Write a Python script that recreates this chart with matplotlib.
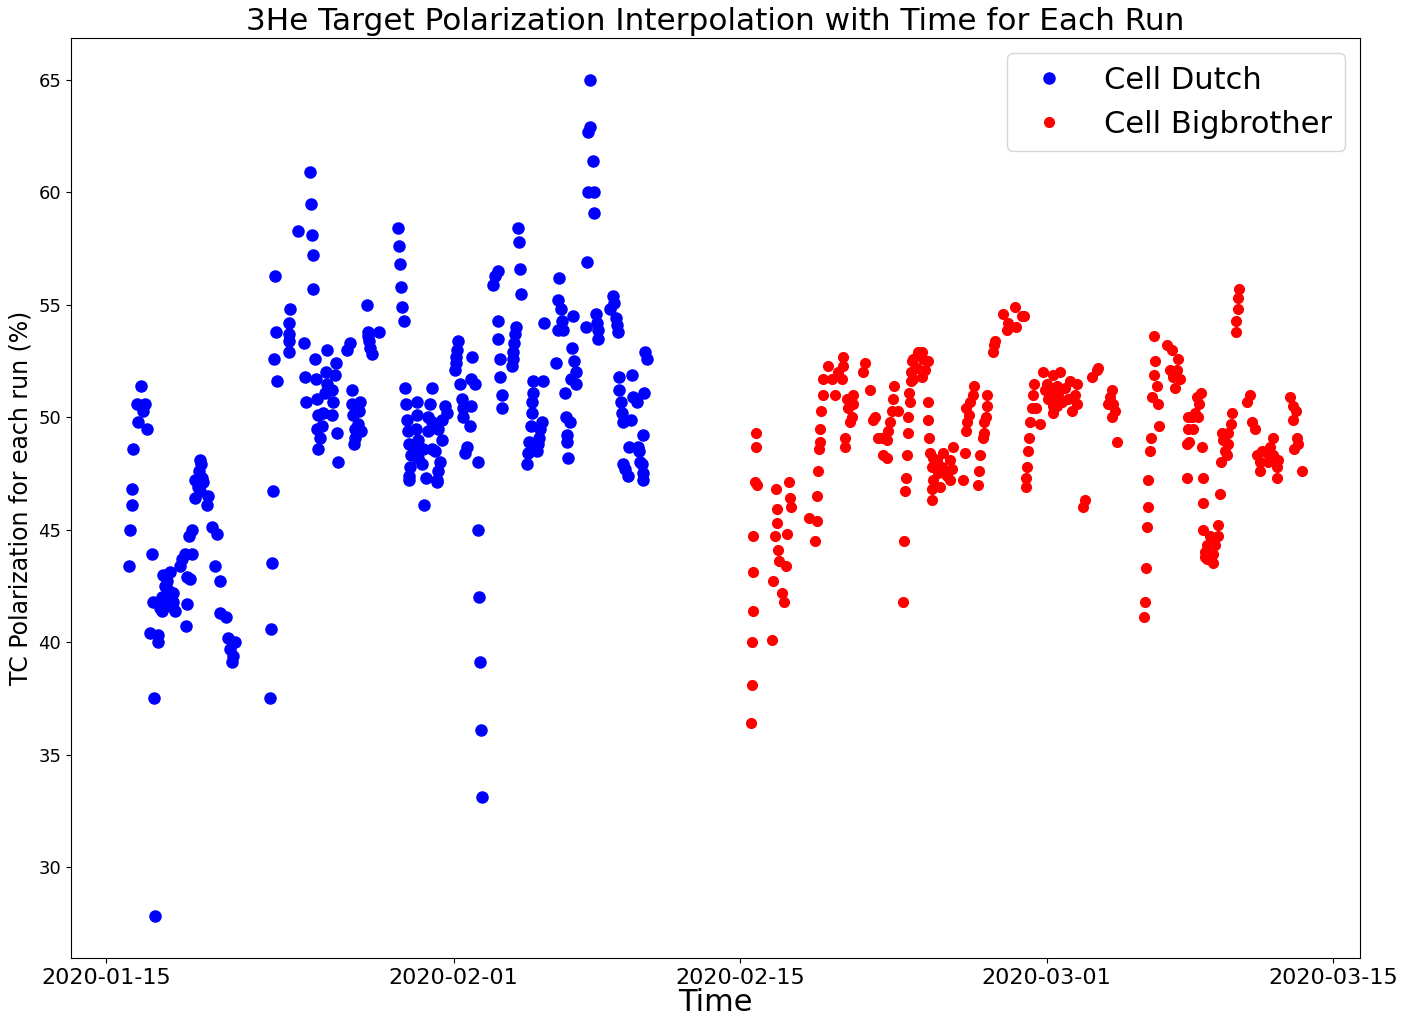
import matplotlib
matplotlib.use("Agg")
import matplotlib.pyplot as plt
import matplotlib.dates as mdates
import pandas as pd

# ------------------------------
# Data: days since 2020-01-15 and polarization (%)
# ------------------------------
start = pd.Timestamp("2020-01-15")

dutch_days = [
    1.12, 1.17, 1.27, 1.27, 1.32, 1.71, 1.52, 1.91, 1.81, 1.56, 2.00,
    2.25, 2.30, 2.15, 2.54, 2.54, 2.35, 2.40,
    2.79, 3.13, 2.98, 3.03, 2.74, 3.28, 2.79, 2.64, 3.28, 3.37, 2.74, 2.90, 3.08, 3.18,
    3.96, 4.11, 3.96, 3.91, 3.72, 3.86, 4.21, 3.62, 4.21, 4.06,
    4.60, 4.55, 4.35, 4.74, 4.50, 4.60, 4.35, 4.65, 4.70,
    4.99, 4.94, 5.18, 5.43, 5.33, 5.57, 5.57, 5.87,
    5.97, 6.31, 6.06, 6.21, 6.16,
    9.98, 10.02, 9.39, 10.07, 10.12, 8.26, 10.12, 9.00,
    8.95, 8.95, 8.95, 8.95, 8.31, 9.68, 8.22, 8.36,
    10.22, 10.81, 11.25, 9.73, 10.27, 10.76, 11.20,
    10.81, 11.05, 10.71, 11.10, 9.78, 10.32,
    10.37, 10.61, 11.05, 10.32, 10.56, 10.46, 10.37,
    11.30, 11.34, 11.78, 11.93, 12.76,
    12.81, 12.81, 12.86, 12.91, 13.01, 13.35, 12.03,
    12.42, 12.03, 12.37, 12.08, 12.32, 12.18, 12.47, 12.18, 12.13,
    8.17, 8.12, 8.07, 8.02,
    14.28, 14.33, 14.38, 14.43, 14.47, 14.57,
    19.02, 19.17, 18.92, 19.17, 19.17, 19.27, 19.27, 19.36, 19.36,
    17.21, 17.16, 17.11, 17.11, 17.07, 17.90,
    17.31, 17.85, 18.04, 17.40, 17.46, 17.85, 17.46, 17.80, 17.65, 17.56, 18.19,
    14.62, 15.94, 14.67, 15.21, 15.84,
    14.72, 15.21, 15.75, 15.94, 16.58, 16.67, 16.43,
    14.77, 15.16, 15.75, 16.23, 16.43,
    14.82, 15.26, 15.11, 15.50, 15.94,
    14.91, 15.26, 15.45, 16.09,
    14.87, 14.82, 14.82, 16.33, 16.23, 16.19, 16.19, 15.65, 15.55,
    18.19, 18.24, 18.29, 18.34, 18.39,
    23.67, 23.67, 23.57, 23.81, 23.57, 23.86, 23.86, 23.52,
    20.15, 20.20, 20.24, 20.29,
    20.05, 20.00, 19.95, 19.90, 19.90, 19.85,
    21.42, 22.15, 22.10, 22.25, 22.30, 22.10, 22.35, 22.84, 23.47,
    23.96, 24.01, 24.06, 24.06,
    24.79, 24.84, 24.65, 24.94, 24.99, 25.04,
    22.79, 22.89, 22.98, 22.74, 22.98, 22.00, 22.44,
    22.49, 22.69, 22.54, 22.54, 22.59,
    20.88, 21.37, 20.88, 20.83, 20.83, 20.78, 21.32, 21.22, 21.17, 21.12, 21.08,
    20.68, 20.64, 20.59,
    26.36, 26.45,
    25.09, 25.09, 25.18, 25.23, 25.28, 25.72, 25.67,
    25.77, 25.97, 26.31, 26.26,
    25.57, 26.01, 26.06, 26.11,
    25.28, 25.38, 25.53, 26.21, 26.26, 26.26,
]
dutch_pol = [
    43.4, 45.0, 46.1, 46.8, 48.6, 51.4, 50.6, 50.6, 50.3, 49.8, 49.5,
    43.9, 41.8, 40.4, 40.3, 40.0, 37.5, 27.8,
    43.0, 43.1, 42.7, 42.3, 42.0, 42.2, 41.7, 41.5, 41.8, 41.4, 41.4, 42.5, 42.0, 41.6,
    42.9, 42.8, 41.7, 40.7, 43.7, 43.9, 43.9, 43.4, 45.0, 44.7,
    48.1, 47.6, 47.2, 47.1, 46.9, 46.7, 46.4, 47.9, 47.3,
    46.5, 46.1, 45.1, 44.8, 43.4, 42.7, 41.3, 41.1,
    40.2, 40.0, 39.7, 39.4, 39.1,
    60.9, 59.5, 58.3, 58.1, 57.2, 56.3, 55.7, 54.8,
    54.2, 53.7, 53.4, 52.9, 53.8, 53.3, 52.6, 51.6,
    52.6, 53.0, 52.4, 51.8, 51.7, 52.0, 51.9,
    51.5, 51.2, 51.1, 50.7, 50.7, 50.8,
    50.1, 50.2, 50.1, 49.5, 49.6, 49.1, 48.6,
    49.3, 48.0, 53.0, 53.3, 55.0,
    53.8, 53.6, 53.4, 53.1, 52.8, 53.8, 51.2,
    50.7, 50.6, 50.3, 50.1, 49.7, 49.5, 49.4, 49.1, 48.8,
    46.7, 43.5, 40.6, 37.5,
    58.4, 57.6, 56.8, 55.8, 54.9, 54.3,
    56.3, 56.5, 55.9, 54.3, 53.5, 52.6, 51.8, 51.0, 50.4,
    53.4, 53.0, 52.7, 52.4, 52.1, 52.7,
    51.5, 51.7, 51.5, 50.8, 50.4, 50.5, 50.0, 49.6, 48.7, 48.4, 48.0,
    51.3, 51.3, 50.6, 50.7, 50.6,
    49.9, 50.1, 50.0, 49.8, 50.5, 50.2, 49.9,
    49.4, 49.5, 49.4, 49.5, 49.0,
    48.8, 49.0, 48.6, 48.6, 48.6,
    48.3, 48.2, 47.9, 48.5,
    47.8, 47.4, 47.2, 48.0, 47.6, 47.2, 47.1, 47.3, 46.1,
    45.0, 42.0, 39.1, 36.1, 33.1,
    65.0, 62.9, 62.7, 61.4, 60.0, 60.0, 59.1, 56.9,
    58.4, 57.8, 56.6, 55.5,
    54.0, 53.7, 53.3, 52.9, 52.6, 52.3,
    54.2, 56.2, 55.2, 54.8, 54.3, 53.9, 53.9, 54.5, 54.0,
    54.6, 54.2, 53.9, 53.5,
    55.4, 55.1, 54.8, 54.4, 54.1, 53.8,
    53.1, 52.5, 52.0, 51.7, 51.5, 52.4, 51.1,
    50.0, 49.8, 49.2, 48.9, 48.2,
    51.6, 51.6, 51.1, 50.7, 50.2, 49.6, 49.8, 49.5, 49.1, 48.8, 48.5,
    48.9, 48.4, 47.9,
    52.9, 52.6,
    51.8, 51.2, 50.7, 50.2, 49.8, 51.9, 49.9,
    50.9, 50.7, 51.1, 49.2,
    48.7, 48.7, 48.5, 48.0,
    47.9, 47.7, 47.4, 47.9, 47.5, 47.2,
]

bb_days = [
    31.78, 31.78, 31.74, 31.83, 31.64, 31.64, 31.64, 31.59, 31.59, 31.54,
    33.40, 32.76, 33.45, 33.50, 32.81, 32.81, 32.71, 33.30, 32.86, 32.91,
    33.25, 32.62, 33.06, 33.15, 32.57,
    34.38, 34.77, 34.82, 34.77, 34.67,
    34.91, 34.91, 34.87, 34.96, 35.06,
    35.31, 35.06, 35.50, 35.65, 35.79, 36.04, 36.04, 35.99,
    36.23, 36.28, 36.48, 36.38, 36.14, 36.14, 36.53, 36.53,
    37.12, 37.02, 37.36, 37.51, 37.60,
    38.53, 38.48, 38.44, 38.73, 38.34, 38.24, 37.95, 38.19, 38.00, 38.19, 37.75,
    39.41, 39.36, 39.36, 39.27, 39.32, 39.22, 39.22, 39.17, 39.12, 39.07, 39.02, 38.97,
    39.71, 39.90, 39.46, 39.95, 40.20, 39.66, 40.05, 39.46, 39.90,
    40.20, 40.20, 40.24, 40.29, 40.44,
    40.93, 41.42, 40.64, 41.27, 40.39, 40.88, 41.37, 40.68, 41.12, 40.44, 41.27,
    40.78, 40.39, 40.39,
    42.00, 41.91,
    42.44, 42.40, 42.25, 42.05, 42.20, 42.10, 42.05,
    43.08, 43.08, 43.03, 42.93, 42.93, 42.89, 42.74, 42.69, 42.64,
    43.47, 43.42, 43.37,
    43.86, 44.45, 44.11, 44.50, 44.79, 44.89, 44.06,
    45.38, 45.33, 45.28, 45.48, 45.18, 45.67, 45.13, 45.09, 45.04, 44.99, 44.99,
    45.82, 46.31, 46.01, 46.50, 45.92, 46.26, 46.06, 46.55, 46.31, 46.31,
    46.65, 47.14, 47.48, 46.89, 46.55, 47.38, 47.04, 46.75, 47.48, 47.24, 46.50,
    48.22, 48.46, 48.51,
    47.87, 47.78,
    49.19, 49.10, 49.24, 48.99, 49.34, 49.19, 49.44,
    51.25, 51.30, 51.25, 51.39, 51.15, 51.44, 51.49,
    51.10, 51.05, 50.95, 50.95, 50.90, 50.86, 50.81, 50.76,
    51.88, 52.13, 52.42, 52.37, 52.18, 52.52, 52.27, 52.03,
    52.91, 52.91, 52.86, 52.86,
    55.40, 55.35, 55.35, 55.26, 55.26,
    53.55, 53.35, 53.45, 53.25, 53.40, 53.11, 53.15, 52.96, 53.59, 53.64, 53.64,
    54.47,
    53.64, 54.38, 53.99, 54.38, 53.84, 54.23, 53.74, 54.13, 53.84, 54.13, 53.74,
    55.06, 55.01, 54.57, 54.87, 54.62, 54.87, 54.72, 54.82, 54.52,
    55.94, 55.79, 56.04, 56.19,
    57.07, 56.92, 56.53, 56.28, 56.77, 57.07, 57.31, 56.43, 57.26, 56.43, 57.26, 56.82,
    57.90, 58.04, 58.19, 58.04,
    58.24, 58.29, 58.09, 58.48,
]
bb_pol = [
    49.3, 48.7, 47.1, 47.0, 44.7, 43.1, 41.4, 40.0, 38.1, 36.4,
    47.1, 46.8, 46.4, 46.0, 45.9, 45.3, 44.7, 44.8, 44.1, 43.6,
    43.4, 42.7, 42.2, 41.8, 40.1,
    45.5, 45.4, 47.6, 46.5, 44.5,
    49.5, 48.9, 48.6, 50.3, 51.0,
    52.3, 51.7, 51.7, 51.0, 52.0, 52.7, 52.3, 51.7,
    50.8, 50.4, 50.0, 49.8, 49.1, 48.7, 51.0, 50.6,
    52.4, 52.0, 51.2, 49.9, 50.0,
    51.4, 50.8, 50.3, 50.3, 49.8, 49.4, 49.1, 49.0, 48.3, 48.2, 49.1,
    52.5, 52.0, 51.6, 51.1, 50.7, 50.0, 49.3, 48.3, 47.3, 46.7, 44.5, 41.8,
    52.9, 52.9, 52.6, 52.6, 52.5, 52.2, 52.1, 51.7, 51.8,
    50.7, 49.9, 49.1, 48.4, 48.2,
    48.4, 48.7, 48.1, 48.1, 47.8, 47.8, 47.7, 47.5, 47.4, 47.2, 47.2,
    46.9, 46.8, 46.3,
    48.4, 47.2,
    51.4, 51.0, 50.7, 50.4, 50.1, 49.8, 49.4,
    51.0, 50.5, 50.0, 49.8, 49.3, 49.1, 48.3, 47.6, 47.0,
    53.4, 53.2, 52.9,
    54.6, 54.9, 54.2, 54.0, 54.5, 54.5, 53.9,
    51.5, 51.0, 50.4, 50.4, 49.8, 49.7, 49.1, 48.5, 47.8, 47.3, 46.9,
    52.0, 51.9, 51.5, 51.4, 51.2, 51.1, 50.8, 50.9, 50.5, 50.2,
    52.0, 51.6, 51.5, 51.3, 51.1, 51.0, 50.8, 50.7, 50.6, 50.3, 50.5,
    51.8, 52.1, 52.2,
    46.3, 46.0,
    51.2, 50.9, 50.6, 50.6, 50.3, 50.0, 48.9,
    53.6, 52.5, 51.9, 51.4, 50.9, 50.6, 49.6,
    49.1, 48.5, 47.2, 46.0, 45.1, 43.3, 41.8, 41.1,
    53.2, 53.0, 52.6, 52.1, 51.8, 51.7, 51.3, 52.1,
    50.0, 49.5, 48.8, 47.3,
    55.7, 55.3, 54.8, 54.3, 53.8,
    51.1, 50.9, 50.6, 50.2, 50.0, 50.0, 49.5, 48.9, 48.7, 47.3, 46.2,
    46.6,
    45.0, 45.2, 44.7, 44.7, 44.3, 44.3, 44.0, 43.9, 43.7, 43.5, 43.8,
    50.2, 49.7, 49.3, 49.3, 49.0, 48.8, 48.5, 48.3, 48.0,
    51.0, 50.7, 49.8, 49.5,
    49.1, 48.7, 48.5, 48.3, 48.4, 48.3, 48.1, 48.0, 47.8, 47.6, 47.3, 48.0,
    50.9, 50.5, 50.3, 49.9,
    49.1, 48.8, 48.6, 47.6,
]

tick_dates = ["2020-01-15", "2020-02-01", "2020-02-15", "2020-03-01", "2020-03-15"]

dutch_time = start + pd.to_timedelta(dutch_days, unit="D")
bb_time = start + pd.to_timedelta(bb_days, unit="D")

# ------------------------------
# Plot
# ------------------------------
fig = plt.figure(figsize=(14.11, 10.19), dpi=100)
ax = fig.add_axes([0.0503, 0.0599, 0.9135, 0.9028])

ax.plot(dutch_time, dutch_pol, "o", color="blue", markersize=8, label="Cell Dutch")
ax.plot(bb_time, bb_pol, "o", color="red", markersize=7, label="Cell Bigbrother")

ax.set_xlim(pd.Timestamp("2020-01-13 07:00"), pd.Timestamp("2020-03-16 07:40"))
ax.set_ylim(25.95, 66.87)
ax.set_xticks(pd.to_datetime(tick_dates))
ax.xaxis.set_major_formatter(mdates.DateFormatter("%Y-%m-%d"))
ax.tick_params(axis="x", labelsize=16)
ax.tick_params(axis="y", labelsize=13)

ax.set_title("3He Target Polarization Interpolation with Time for Each Run", fontsize=22.4)
ax.set_xlabel("Time", fontsize=22, labelpad=0)
ax.set_ylabel("TC Polarization for each run (%)", fontsize=17)
ax.legend(loc="upper right", fontsize=22)

fig.savefig("out.png", dpi=100)
